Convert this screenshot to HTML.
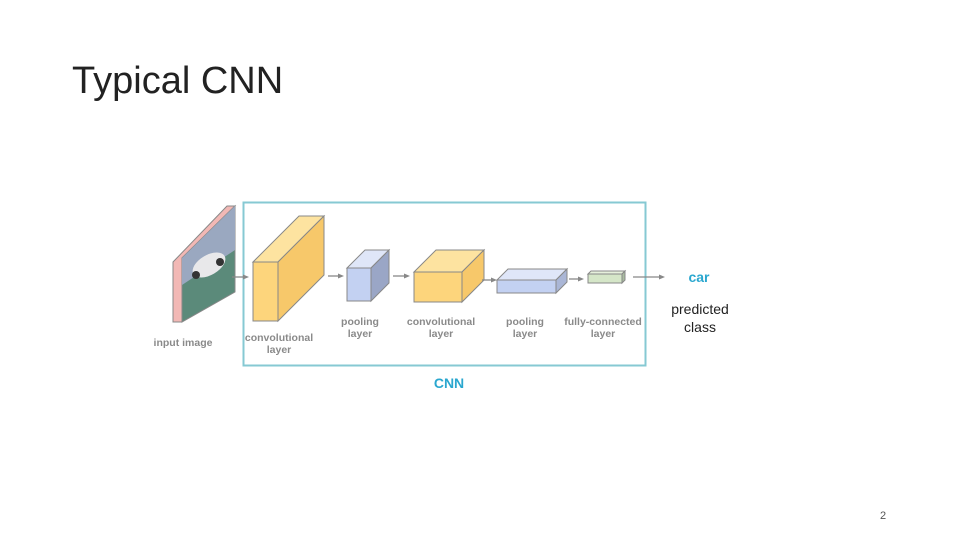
<!DOCTYPE html>
<html><head><meta charset="utf-8"><style>
html,body{margin:0;padding:0;background:#fff;}
svg{display:block}
</style></head><body>
<svg width="960" height="540" viewBox="0 0 960 540" xmlns="http://www.w3.org/2000/svg">
<rect width="960" height="540" fill="#fff"/>
<text x="72" y="93" font-family="Liberation Sans, sans-serif" font-size="38" font-weight="300" fill="#222">Typical CNN</text>
<text x="883" y="519" font-family="Liberation Sans, sans-serif" font-size="11" fill="#555" text-anchor="middle">2</text>

<!-- CNN box -->
<rect x="243.5" y="202.5" width="402" height="163" fill="none" stroke="#86c9d3" stroke-width="2"/>

<!-- input image -->
<polygon points="173,262 227,206 235,206 182,258 182,322 173,322" fill="#f2b8b5" stroke="#888" stroke-width="1"/>
<polygon points="182,258 235,206 235,292 182,322" fill="#5b8a7a" stroke="#888" stroke-width="1"/>
<polygon points="182,258 235,206 235,250 182,285" fill="#9aa8c0"/>
<ellipse cx="209" cy="265" rx="18" ry="10" fill="#e8e8ea" transform="rotate(-30 209 265)"/>
<circle cx="196" cy="275" r="4" fill="#333"/><circle cx="220" cy="262" r="4" fill="#333"/>

<g stroke="#888" stroke-width="1">
<!-- conv1 -->
<polygon points="253,262 299,216 324,216 278,262" fill="#fde3a0"/>
<polygon points="278,262 324,216 324,275 278,321" fill="#f7c86a"/>
<rect x="253" y="262" width="25" height="59" fill="#fdd57c"/>
<!-- pool1 -->
<polygon points="347,268 365,250 389,250 371,268" fill="#dfe6f8"/>
<polygon points="371,268 389,250 389,283 371,301" fill="#9aa6c6"/>
<rect x="347" y="268" width="24" height="33" fill="#c3d1f2"/>
<!-- conv2 -->
<polygon points="414,272 436,250 484,250 462,272" fill="#fde3a0"/>
<polygon points="462,272 484,250 484,280 462,302" fill="#f7c86a"/>
<rect x="414" y="272" width="48" height="30" fill="#fdd57c"/>
<!-- pool2 -->
<polygon points="497,280 508,269 567,269 556,280" fill="#dfe6f8"/>
<polygon points="556,280 567,269 567,282 556,293" fill="#aab6d6"/>
<rect x="497" y="280" width="59" height="13" fill="#c3d1f2"/>
<!-- fc -->
<polygon points="588,274 591,271 625,271 622,274" fill="#e6f0dc"/>
<polygon points="622,274 625,271 625,280 622,283" fill="#a9bca0"/>
<rect x="588" y="274" width="34" height="9" fill="#d5e6c8"/>
</g>

<!-- arrows -->
<g stroke="#888" stroke-width="1.3" fill="#888">
<line x1="232" y1="277" x2="245" y2="277"/><polygon points="249,277 243,274.5 243,279.5" stroke="none"/>
<line x1="328" y1="276" x2="340" y2="276"/><polygon points="344,276 338,273.5 338,278.5" stroke="none"/>
<line x1="393" y1="276" x2="406" y2="276"/><polygon points="410,276 404,273.5 404,278.5" stroke="none"/>
<line x1="482" y1="280" x2="493" y2="280"/><polygon points="497,280 491,277.5 491,282.5" stroke="none"/>
<line x1="569" y1="279" x2="580" y2="279"/><polygon points="584,279 578,276.5 578,281.5" stroke="none"/>
<line x1="633" y1="277" x2="660" y2="277"/><polygon points="665,277 659,274.5 659,279.5" stroke="none"/>
</g>

<g font-family="Liberation Sans, sans-serif" font-size="10.5" font-weight="bold" fill="#8a8a8a" text-anchor="middle">
<text x="183" y="346">input image</text>
<text x="279" y="341">convolutional</text><text x="279" y="353">layer</text>
<text x="360" y="325">pooling</text><text x="360" y="337">layer</text>
<text x="441" y="325">convolutional</text><text x="441" y="337">layer</text>
<text x="525" y="325">pooling</text><text x="525" y="337">layer</text>
<text x="603" y="325">fully-connected</text><text x="603" y="337">layer</text>
</g>
<text x="699" y="282" font-family="Liberation Sans, sans-serif" font-size="14" font-weight="bold" fill="#2aa7cf" text-anchor="middle">car</text>
<text x="700" y="314" font-family="Liberation Sans, sans-serif" font-size="14" fill="#222" text-anchor="middle">predicted</text>
<text x="700" y="332" font-family="Liberation Sans, sans-serif" font-size="14" fill="#222" text-anchor="middle">class</text>
<text x="449" y="388" font-family="Liberation Sans, sans-serif" font-size="14" font-weight="bold" fill="#2aa7cf" text-anchor="middle">CNN</text>
</svg>
</body></html>
